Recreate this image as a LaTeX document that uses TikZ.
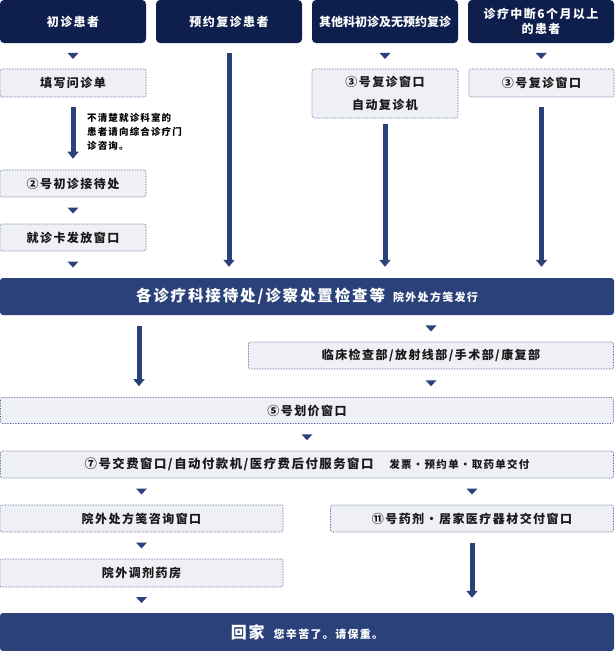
\documentclass[tikz,border=0pt]{standalone}
\usepackage{fontspec}
\setmainfont{Noto Sans CJK SC}[LetterSpace=12]
\usetikzlibrary{arrows.meta,calc}
\definecolor{hdr}{HTML}{0E1F4E}
\definecolor{bar}{HTML}{2B4179}
\definecolor{boxfill}{HTML}{EEF0F5}
\definecolor{boxline}{HTML}{3C5088}
\tikzset{
  hdrbox/.style={fill=hdr, rounded corners=4pt, text=white, font=\bfseries\fontsize{12}{15}\selectfont,
    minimum width=146pt, minimum height=43pt, inner sep=0pt, align=center},
  stepbox/.style={fill=boxfill, draw=boxline, densely dotted, line width=0.6pt, rounded corners=2pt,
    font=\bfseries\fontsize{12}{14}\selectfont, text=black!90, inner sep=0pt, align=center},
  barbox/.style={fill=bar, rounded corners=3pt, text=white, inner sep=0pt, minimum width=614pt},
  bigarrow/.style={draw=bar, line width=5pt, -{Triangle[width=11pt,length=7pt]}},
  notetext/.style={anchor=north west, align=left, inner sep=0pt, font=\bfseries\fontsize{9.5}{14}\selectfont},
  pics/dtri/.style={code={\fill[bar] (-5.5,-3) -- (5.5,-3) -- (0,3) -- cycle;}},
}
\begin{document}
\begin{tikzpicture}[x=1pt,y=-1pt]
\useasboundingbox (0,0) rectangle (614,651);
% headers
\node[hdrbox] (h1) at (73,21.5) {初诊患者};
\node[hdrbox] (h2) at (229,21.5) {预约复诊患者};
\node[hdrbox, font=\bfseries\fontsize{12}{15}\selectfont\addfontfeature{LetterSpace=0}] (h3) at (385,21.5) {其他科初诊及无预约复诊};
\node[hdrbox] (h4) at (541,21.5) {诊疗中断6个月以上\\的患者};
% column boxes
\node[stepbox, minimum width=146pt, minimum height=28pt] (q) at (73,83) {填写问诊单};
\node[stepbox, minimum width=146pt, minimum height=27pt] (r2) at (73,183.5) {②号初诊接待处};
\node[stepbox, minimum width=146pt, minimum height=27pt] (card) at (73,237.5) {就诊卡发放窗口};
\node[stepbox, minimum width=146pt, minimum height=49pt, font=\bfseries\fontsize{12}{23}\selectfont] (w3a) at (385,93.5) {③号复诊窗口\\自动复诊机};
\node[stepbox, minimum width=145pt, minimum height=28pt] (w3b) at (541.5,83) {③号复诊窗口};
\node[notetext] (note) at (87,113) {不清楚就诊科室的\\患者请向综合诊疗门\\诊咨询。};
% main bar
\node[barbox, minimum height=37pt] (main) at (307,296.5) {{\bfseries\fontsize{15.5}{18}\selectfont 各诊疗科接待处/诊察处置检查等}\hspace{8pt}{\bfseries\fontsize{11}{12}\selectfont 院外处方笺发行}};
\node[stepbox, minimum width=365pt, minimum height=27pt] (insp) at (431,355.5) {临床检查部/放射线部/手术部/康复部};
\node[stepbox, minimum width=613pt, minimum height=26pt] (price) at (307,410.5) {⑤号划价窗口};
\node[stepbox, minimum width=613pt, minimum height=27pt] (pay) at (307,464.5) {{\fontsize{12.4}{14}\selectfont ⑦号交费窗口/自动付款机/医疗费后付服务窗口}\hspace{16pt}{\fontsize{10.5}{12}\selectfont 发票・预约单・取药单交付}};
\node[stepbox, minimum width=283pt, minimum height=27pt] (cons) at (141.5,518.5) {院外处方笺咨询窗口};
\node[stepbox, minimum width=283pt, minimum height=27pt] (w11) at (472,518.5) {⑪号药剂・居家医疗器材交付窗口};
\node[stepbox, minimum width=283pt, minimum height=28pt] (pharm) at (141.5,573) {院外调剂药房};
\node[barbox, minimum height=38pt] (home) at (307,632) {{\bfseries\fontsize{16}{18}\selectfont 回家}\hspace{9pt}{\bfseries\fontsize{11}{13}\selectfont 您辛苦了。请保重。}};
% small triangles
\pic at ($(h1.south)!.5!(q.north)$) {dtri};
\pic at ($(r2.south)!.5!(card.north)$) {dtri};
\pic at ($(card.south)!.5!(card.south |- main.north)$) {dtri};
\pic at ($(h3.south)!.5!(w3a.north)$) {dtri};
\pic at ($(h4.south)!.5!(w3b.north)$) {dtri};
\pic at ($(insp.north |- main.south)!.5!(insp.north)$) {dtri};
\pic at ($(insp.south)!.5!(insp.south |- price.north)$) {dtri};
\pic at ($(price.south)!.5!(pay.north)$) {dtri};
\pic at ($(cons.north |- pay.south)!.5!(cons.north)$) {dtri};
\pic at ($(w11.north |- pay.south)!.5!(w11.north)$) {dtri};
\pic at ($(cons.south)!.5!(pharm.north)$) {dtri};
\pic at ($(pharm.south)!.5!(pharm.south |- home.north)$) {dtri};
% thick arrows
\coordinate (lc) at (139,0);
\draw[bigarrow] ([yshift=-10pt]q.south) -- ([yshift=11pt]r2.north);
\draw[bigarrow] ([yshift=-10pt]h2.south) -- ([yshift=11pt]h2.south |- main.north);
\draw[bigarrow] ([yshift=-6pt]w3a.south) -- ([yshift=11pt]w3a.south |- main.north);
\draw[bigarrow] ([yshift=-10pt]w3b.south) -- ([yshift=11pt]w3b.south |- main.north);
\draw[bigarrow] ([yshift=-11pt]lc |- main.south) -- ([yshift=11pt]lc |- price.north);
\draw[bigarrow] ([yshift=-11pt]w11.south) -- ([yshift=15pt]w11.south |- home.north);
\end{tikzpicture}
\end{document}
